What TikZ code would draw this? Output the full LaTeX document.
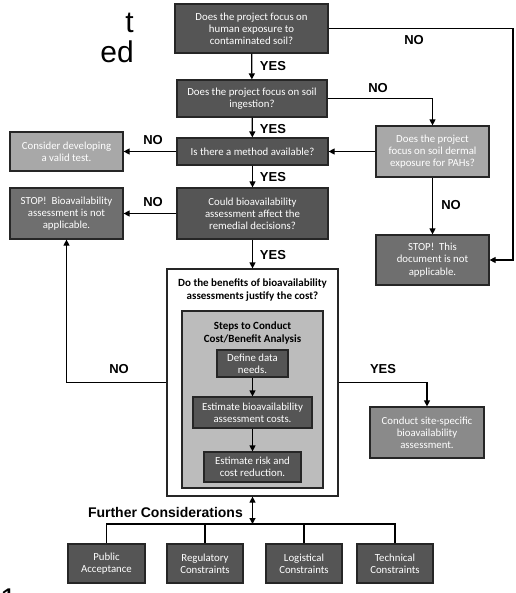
\documentclass[tikz,border=0pt]{standalone}
\usepackage{fontspec}
\setmainfont{Carlito}
\newfontfamily\labelfont{Liberation Sans}
\usetikzlibrary{arrows.meta, positioning}

\definecolor{boxdark}{HTML}{555555}
\definecolor{boxmid}{HTML}{6F6F6F}
\definecolor{boxsite}{HTML}{8A8A8A}
\definecolor{boxlight}{HTML}{A8A8A8}
\definecolor{panelgray}{HTML}{BCBCBC}

\begin{document}
\begin{tikzpicture}[
    x=1pt, y=-1pt,
    box/.style    = {rectangle, draw=black!85, line width=1.2pt, fill=boxdark,
                     text=white, font=\fontsize{10.8}{12.2}\selectfont,
                     align=center, inner sep=0pt},
    midbox/.style = {box, fill=boxmid},
    sitebox/.style= {box, fill=boxsite},
    litebox/.style= {box, fill=boxlight},
    frame/.style  = {rectangle, draw=black!85, line width=1.2pt, inner sep=0pt},
    title/.style  = {font=\bfseries\fontsize{11}{12.5}\selectfont, align=center, inner sep=0pt},
    yn/.style     = {font=\labelfont\bfseries\fontsize{13}{15}\selectfont, inner sep=0pt},
    arr/.style    = {-{Triangle[length=6pt, width=6pt]}, line width=1.2pt},
    wire/.style   = {line width=1.2pt}
]
  \useasboundingbox (0,0) rectangle (515,593);

  % cropped slide text
  \node[font=\labelfont\fontsize{30}{34}\selectfont, anchor=base east, inner sep=0pt] (fragt)  at (134,33) {t};
  \node[font=\labelfont\fontsize{30}{34}\selectfont, anchor=base east, inner sep=0pt] (fraged) at (134,63) {ed};
  \node[font=\labelfont\fontsize{30}{34}\selectfont, anchor=base west, inner sep=0pt] (fragone) at (0,609) {1};

  % questions
  \node[box, minimum width=153, minimum height=49] (q1) at (251.5,28.5)
        {Does the project focus on\\human exposure to\\contaminated soil?};
  \node[box, minimum width=150, minimum height=37] (q2) at (252,98.5)
        {Does the project focus on soil\\ingestion?};
  \node[box, minimum width=151, minimum height=27] (q3) at (252.5,151.5)
        {Is there a method available?};
  \node[box, minimum width=151, minimum height=51] (q4) at (252.5,213.5)
        {Could bioavailability\\assessment affect the\\remedial decisions?};

  % side boxes
  \node[litebox, minimum width=113, minimum height=39] (consider) at (66.5,151.5)
        {Consider developing\\a valid test.};
  \node[midbox, minimum width=113, minimum height=51] (stopbio) at (66.5,213.5)
        {STOP!\ \ Bioavailability\\assessment is not\\applicable.};
  \node[litebox, minimum width=113, minimum height=51] (dermal) at (432.5,151.5)
        {Does the project\\focus on soil dermal\\exposure for PAHs?};
  \node[midbox, minimum width=113, minimum height=50] (stopdoc) at (432.5,260)
        {STOP!\ \ This\\document is not\\applicable.};

  % cost/benefit frame
  \node[frame, fill=white, minimum width=171, minimum height=227] (outer) at (252.5,382.5) {};
  \node[title] (outertitle) at (252.5,290)
        {Do the benefits of bioavailability\\assessments justify the cost?};
  \node[frame, fill=panelgray, minimum width=141, minimum height=177] (inner) at (252.5,399.5) {};
  \node[title] (innertitle) at (252.5,333)
        {Steps to Conduct\\Cost/Benefit Analysis};
  \node[box, minimum width=71, minimum height=27] (define) at (252.5,363.5)
        {Define data\\needs.};
  \node[box, minimum width=119, minimum height=31] (estcost) at (252.5,412.5)
        {Estimate bioavailability\\assessment costs.};
  \node[box, minimum width=97, minimum height=30] (estrisk) at (252.5,467)
        {Estimate risk and\\cost reduction.};

  \node[sitebox, minimum width=114, minimum height=51] (site) at (427,432.5)
        {Conduct site-specific\\bioavailability\\assessment.};

  % further considerations
  \node[box, minimum width=77, minimum height=39] (public) at (106.5,563.5) {Public\\Acceptance};
  \node[box, minimum width=76, minimum height=39] (regul)  at (205,563.5)   {Regulatory\\Constraints};
  \node[box, minimum width=76, minimum height=39] (logist) at (304,563.5)   {Logistical\\Constraints};
  \node[box, minimum width=76, minimum height=39] (techn)  at (395,563.5)   {Technical\\Constraints};

  \coordinate (q1r) at (513,28.5);
  \coordinate (bus) at (252.5,524);

  % main chain
  \draw[arr] (q1) -- (q2);
  \draw[arr] (q2) -- (q3);
  \draw[arr] (q3) -- (q4);
  \draw[arr] (q4) -- (outer);
  \node[yn] (yes1) at (273,66)  {YES};
  \node[yn] (yes2) at (273,129) {YES};
  \node[yn] (yes3) at (273,177) {YES};
  \node[yn] (yes4) at (273,255) {YES};

  % NO branches
  \draw[arr] (q3) -- (consider);
  \node[yn] (no3) at (153,140) {NO};
  \draw[arr] (q4) -- (stopbio);
  \node[yn] (no4) at (153,202) {NO};
  \draw[arr] (q2.east) -| (dermal.north);
  \node[yn] (no2) at (378,88) {NO};
  \draw[wire] (q1.east) -- (q1r);
  \draw[arr] (q1r) |- (stopdoc.east);
  \node[yn] (no1) at (414,40) {NO};
  \draw[arr] (dermal) -- (stopdoc);
  \node[yn] (nod) at (451,205) {NO};
  \draw[arr] (dermal) -- (q3);

  % cost/benefit outcomes
  \draw[arr] (outer.west) -| (stopbio.south);
  \node[yn] (nocb) at (119,369) {NO};
  \draw[arr] (outer.east) -| (site.north);
  \node[yn] (yescb) at (383,369) {YES};
  \draw[arr] (define) -- (estcost);
  \draw[arr] (estcost) -- (estrisk);

  % further considerations
  \draw[{Triangle[length=6pt, width=6pt]}-{Triangle[length=6pt, width=6pt]}, line width=1.2pt]
        (outer.south) -- (bus);
  \node[font=\labelfont\bfseries\fontsize{14}{16}\selectfont, anchor=east, inner sep=0pt]
        (further) at (243,512) {Further Considerations};
  \draw[wire] (bus) -| (public.north);
  \draw[wire] (bus) -| (regul.north);
  \draw[wire] (bus) -| (logist.north);
  \draw[wire] (bus) -| (techn.north);
\end{tikzpicture}
\end{document}
